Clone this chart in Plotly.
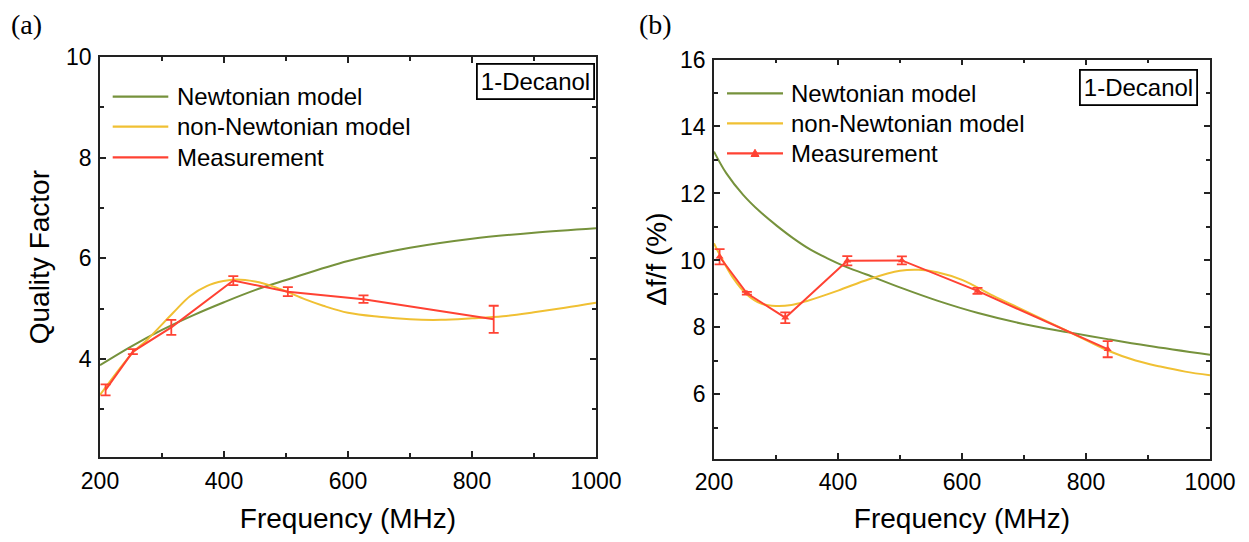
import plotly.graph_objects as go

W, H = 1249, 542          # target picture size
OFF = 8                   # default page body margin
FW, FH = W - 2 * OFF, H - 2 * OFF

# ---------------- data: panel (a) quality factor ----------------
freq_meas = [209, 253, 315, 415, 503, 625, 835]
q_meas = [3.39, 4.15, 4.63, 5.56, 5.34, 5.19, 4.79]
q_err = [0.11, 0.05, 0.15, 0.09, 0.09, 0.075, 0.27]

freq_newt_a = [200, 250, 300, 350, 400, 450, 500, 600, 700, 800, 900, 1000]
q_newt = [3.88, 4.25, 4.58, 4.87, 5.13, 5.37, 5.57, 5.95, 6.21, 6.39, 6.51, 6.60]

freq_nonnewt_a = [200, 253, 275, 318, 345, 372, 399, 420, 450, 480, 503, 530,
                  560, 600, 650, 700, 750, 800, 850, 900, 950, 1000]
q_nonnewt = [3.29, 4.13, 4.37, 4.92, 5.25, 5.45, 5.55, 5.58, 5.54, 5.44, 5.33,
             5.19, 5.06, 4.92, 4.84, 4.79, 4.78, 4.81, 4.85, 4.93, 5.02, 5.12]

# ---------------- data: panel (b) frequency shift ----------------
df_meas = [10.11, 9.02, 8.29, 9.99, 10.00, 9.09, 7.35]
df_err = [0.23, 0.04, 0.16, 0.14, 0.12, 0.09, 0.24]

freq_newt_b = [200, 220, 247, 274, 301, 328, 355, 382, 409, 446, 502, 560, 626,
               715, 780, 835, 900, 1000]
df_newt = [13.25, 12.60, 11.96, 11.46, 11.04, 10.66, 10.33, 10.07, 9.84, 9.58,
           9.18, 8.80, 8.43, 8.04, 7.83, 7.65, 7.45, 7.18]

freq_nonnewt_b = [200, 211, 231, 252, 275, 300, 325, 350, 400, 450, 500, 530,
                  560, 600, 650, 700, 750, 800, 835, 880, 920, 960, 1000]
df_nonnewt = [10.51, 10.11, 9.47, 9.00, 8.72, 8.64, 8.67, 8.79, 9.10, 9.44,
              9.69, 9.72, 9.65, 9.42, 8.95, 8.51, 8.07, 7.62, 7.31, 7.01, 6.83,
              6.68, 6.57]

legend_labels = ["Newtonian model", "non-Newtonian model", "Measurement"]
liquid = "1-Decanol"

GREEN = "#76923C"
YELLOW = "#F0C033"
RED = "#FF4233"
AX = "#222222"
FONT = "Liberation Sans, Arial, sans-serif"


def px(x):
    return (x - OFF) / FW


def py(y):
    return 1 - (y - OFF) / FH


fig = go.Figure()

# panel (a)
fig.add_trace(go.Scatter(x=freq_newt_a, y=q_newt, mode="lines", line=dict(color=GREEN, width=2, shape="spline"),
                         xaxis="x", yaxis="y", showlegend=False, name=legend_labels[0]))
fig.add_trace(go.Scatter(x=freq_nonnewt_a, y=q_nonnewt, mode="lines", line=dict(color=YELLOW, width=2, shape="spline"),
                         xaxis="x", yaxis="y", showlegend=False, name=legend_labels[1]))
fig.add_trace(go.Scatter(x=freq_meas, y=q_meas, mode="lines", line=dict(color=RED, width=2),
                         error_y=dict(type="data", array=q_err, color=RED, thickness=1.8, width=5),
                         xaxis="x", yaxis="y", showlegend=False, name=legend_labels[2]))

# panel (b)
fig.add_trace(go.Scatter(x=freq_newt_b, y=df_newt, mode="lines", line=dict(color=GREEN, width=2, shape="spline"),
                         xaxis="x2", yaxis="y2", showlegend=False, name=legend_labels[0]))
fig.add_trace(go.Scatter(x=freq_nonnewt_b, y=df_nonnewt, mode="lines", line=dict(color=YELLOW, width=2, shape="spline"),
                         xaxis="x2", yaxis="y2", showlegend=False, name=legend_labels[1]))
fig.add_trace(go.Scatter(x=freq_meas, y=df_meas, mode="lines+markers", line=dict(color=RED, width=2),
                         marker=dict(symbol="triangle-up", size=7, color=RED),
                         error_y=dict(type="data", array=df_err, color=RED, thickness=1.8, width=5),
                         xaxis="x2", yaxis="y2", showlegend=False, name=legend_labels[2]))


def xaxis_cfg(domain, anchor):
    return dict(domain=domain, anchor=anchor, range=[200, 1000], dtick=200, tick0=200,
                automargin=False,
                ticks="inside", ticklen=6, tickwidth=1.5, tickcolor=AX,
                minor=dict(dtick=100, ticks="inside", ticklen=4, tickwidth=1.5, tickcolor=AX),
                showline=True, linecolor=AX, linewidth=1.8, mirror="allticks",
                showgrid=False, zeroline=False,
                tickfont=dict(family=FONT, size=23, color="#000"),
                ticklabelstandoff=2,
                title=dict(text="Frequency (MHz)", font=dict(family=FONT, size=28, color="#000"), standoff=20))


def yaxis_cfg(domain, rng, dt, title, anchor, standoff):
    return dict(domain=domain, range=rng, dtick=dt, tick0=0, anchor=anchor,
                automargin=False,
                ticks="inside", ticklen=6, tickwidth=1.5, tickcolor=AX,
                minor=dict(dtick=dt / 2, ticks="inside", ticklen=4, tickwidth=1.5, tickcolor=AX),
                showline=True, linecolor=AX, linewidth=1.8, mirror="allticks",
                showgrid=False, zeroline=False,
                tickfont=dict(family=FONT, size=23, color="#000"),
                ticklabelstandoff=2,
                title=dict(text=title, font=dict(family=FONT, size=28, color="#000"), standoff=standoff))


xa_dom = [px(100), px(596)]
xb_dom = [px(714), px(1210)]
ya_dom = [py(457.3), py(57)]
yb_dom = [py(458.7), py(59.5)]

fig.update_layout(
    width=FW, height=FH,
    margin=dict(l=0, r=0, t=0, b=0, autoexpand=False),
    paper_bgcolor="white", plot_bgcolor="white",
    showlegend=False,
    xaxis=xaxis_cfg(xa_dom, "y"),
    yaxis=yaxis_cfg(ya_dom, [2.05, 10], 2, "Quality Factor", "x", 8),
    xaxis2=xaxis_cfg(xb_dom, "y2"),
    yaxis2=yaxis_cfg(yb_dom, [4.08, 16], 2, "Δf/f (%)", "x2", 5),
)

shapes = []
annotations = []

# manual legends
legend_specs = [
    dict(x0=112.7, x1=168.3, tx=175, rows=[96.7, 126.7, 157.3], marker=False),
    dict(x0=727, x1=783, tx=789, rows=[93.3, 123.3, 153.3], marker=True),
]
for spec in legend_specs:
    for lab, col, yy in zip(legend_labels, [GREEN, YELLOW, RED], spec["rows"]):
        shapes.append(dict(type="line", xref="paper", yref="paper",
                           x0=px(spec["x0"]), x1=px(spec["x1"]), y0=py(yy), y1=py(yy),
                           line=dict(color=col, width=2.2)))
        annotations.append(dict(xref="paper", yref="paper", x=px(spec["tx"]), y=py(yy),
                                xanchor="left", yanchor="middle", showarrow=False,
                                text=lab, font=dict(family=FONT, size=24, color="#000")))
    if spec["marker"]:
        cx = (spec["x0"] + spec["x1"]) / 2
        cy = spec["rows"][2]
        s = 4
        path = "M {},{} L {},{} L {},{} Z".format(
            px(cx - s), py(cy + s * 0.8), px(cx + s), py(cy + s * 0.8), px(cx), py(cy - s))
        shapes.append(dict(type="path", xref="paper", yref="paper", path=path,
                           fillcolor=RED, line=dict(color=RED, width=1)))

# liquid label boxes
for xr, yc in [(595, 81.5), (1198, 88)]:
    annotations.append(dict(xref="paper", yref="paper", x=px(xr), y=py(yc),
                            xanchor="right", yanchor="middle", showarrow=False,
                            text=liquid, font=dict(family=FONT, size=24, color="#000"),
                            bordercolor="#000", borderwidth=1.8, borderpad=3, bgcolor="white"))

# panel labels
for lab, xx in [("(a)", 9), ("(b)", 637)]:
    annotations.append(dict(xref="paper", yref="paper", x=px(xx), y=py(24),
                            xanchor="left", yanchor="middle", showarrow=False,
                            text=lab, font=dict(family="Liberation Serif, Times New Roman, serif", size=28, color="#000")))

fig.update_layout(shapes=shapes, annotations=annotations)

fig.write_html("out.html")
